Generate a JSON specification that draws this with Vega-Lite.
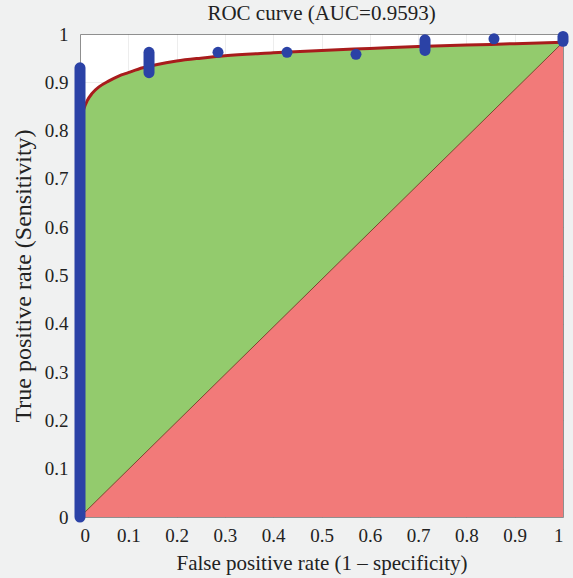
{
  "$schema": "https://vega.github.io/schema/vega-lite/v6.json",
  "autosize": {"type": "none"},
  "width": 483,
  "height": 483,
  "padding": {"left": 80, "top": 34, "right": 10, "bottom": 61},
  "background": "#f0f1f1",
  "title": {"text": "ROC curve (AUC=0.9593)", "font": "Liberation Serif", "fontSize": 21, "fontWeight": "normal", "color": "#222222", "offset": 1},
  "config": {
    "view": {"fill": "white", "stroke": "#9a9a9a", "strokeWidth": 1},
    "axis": {
      "labelFont": "Liberation Serif", "labelFontSize": 19, "labelColor": "#222222",
      "titleFont": "Liberation Serif", "titleFontSize": 21, "titleFontWeight": "normal", "titleColor": "#222222",
      "grid": true, "gridColor": "#000000", "gridOpacity": 0.07, "ticks": false, "domain": false, "zindex": 1
    }
  },
  "datasets": {
    "curve": [
      {"fpr": 0, "tpr": 0.80}, {"fpr": 0.003, "tpr": 0.825}, {"fpr": 0.008, "tpr": 0.845}, {"fpr": 0.015, "tpr": 0.862},
      {"fpr": 0.025, "tpr": 0.877}, {"fpr": 0.04, "tpr": 0.891}, {"fpr": 0.06, "tpr": 0.903}, {"fpr": 0.08, "tpr": 0.913},
      {"fpr": 0.1, "tpr": 0.92}, {"fpr": 0.13, "tpr": 0.93}, {"fpr": 0.16, "tpr": 0.937}, {"fpr": 0.2, "tpr": 0.944},
      {"fpr": 0.25, "tpr": 0.95}, {"fpr": 0.3, "tpr": 0.955}, {"fpr": 0.4, "tpr": 0.961}, {"fpr": 0.5, "tpr": 0.966},
      {"fpr": 0.6, "tpr": 0.97}, {"fpr": 0.7, "tpr": 0.974}, {"fpr": 0.8, "tpr": 0.977}, {"fpr": 0.9, "tpr": 0.98},
      {"fpr": 1, "tpr": 0.983}
    ],
    "diag": [{"fpr": 0, "tpr": 0}, {"fpr": 1, "tpr": 0.983}],
    "pts": [
      {"fpr": 0, "lo": 0, "hi": 0.93},
      {"fpr": 0.1429, "lo": 0.92, "hi": 0.962},
      {"fpr": 0.2857, "lo": 0.962, "hi": 0.962},
      {"fpr": 0.4286, "lo": 0.962, "hi": 0.962},
      {"fpr": 0.5714, "lo": 0.958, "hi": 0.958},
      {"fpr": 0.7143, "lo": 0.966, "hi": 0.988},
      {"fpr": 0.8571, "lo": 0.99, "hi": 0.99},
      {"fpr": 1, "lo": 0.985, "hi": 0.995}
    ]
  },
  "encoding": {
    "x": {"field": "fpr", "type": "quantitative", "scale": {"domain": [0, 1], "nice": false},
      "axis": {"title": "False positive rate (1 – specificity)", "values": [0, 0.1, 0.2, 0.3, 0.4, 0.5, 0.6, 0.7, 0.8, 0.9, 1], "format": "~g", "labelPadding": 9, "titlePadding": 7}},
    "y": {"field": "tpr", "type": "quantitative", "scale": {"domain": [0, 1], "nice": false},
      "axis": {"title": "True positive rate (Sensitivity)", "titleFontSize": 24, "values": [0, 0.1, 0.2, 0.3, 0.4, 0.5, 0.6, 0.7, 0.8, 0.9, 1], "format": "~g", "labelPadding": 12, "titlePadding": 9}}
  },
  "layer": [
    {"data": {"name": "curve"}, "mark": {"type": "area", "color": "#93cb6d", "opacity": 1}},
    {"data": {"name": "diag"}, "mark": {"type": "area", "color": "#f27a79", "opacity": 1}},
    {"data": {"name": "diag"}, "mark": {"type": "line", "color": "#7a4a30", "strokeWidth": 1}},
    {"data": {"name": "curve"}, "mark": {"type": "line", "color": "#a81c1c", "strokeWidth": 3, "interpolate": "monotone"}},
    {"data": {"name": "pts"}, "mark": {"type": "rule", "color": "#2b42a6", "strokeWidth": 11, "strokeCap": "round", "opacity": 1},
      "encoding": {"y": {"field": "lo", "type": "quantitative"}, "y2": {"field": "hi"}}}
  ]
}
